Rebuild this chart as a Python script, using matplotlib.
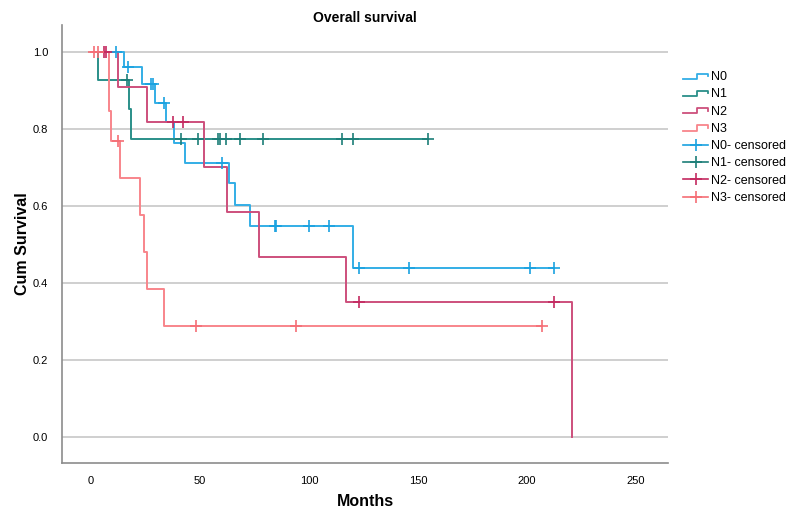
import matplotlib
matplotlib.use("Agg")
import matplotlib.pyplot as plt
from matplotlib.lines import Line2D
from matplotlib.legend_handler import HandlerBase

plt.rcParams['font.family'] = ['Liberation Sans', 'DejaVu Sans']

# Kaplan-Meier steps (months, cum survival)
groups = ['N0', 'N1', 'N2', 'N3']

n0_times = [0, 15.1, 23.2, 29.4, 34.4, 38.1, 43.1, 63.5, 66.0, 73.1, 120.0, 212.5]
n0_surv = [1.0, 0.96, 0.916, 0.868, 0.819, 0.765, 0.713, 0.659, 0.604, 0.548, 0.440, 0.440]
n0_cens = [11.5, 17.1, 27.5, 28.3, 33.5, 60.2, 84.2, 84.8, 100.0, 109.0, 122.8, 145.7, 201.4, 212.5]

n1_times = [0, 3.4, 17.4, 18.3, 154.7]
n1_surv = [1.0, 0.927, 0.851, 0.774, 0.774]
n1_cens = [16.4, 41.1, 49.2, 58.4, 59.2, 62.0, 68.3, 78.7, 115.0, 120.0, 154.7]

n2_times = [0, 12.5, 25.5, 52.0, 62.2, 77.2, 117.0, 220.5]
n2_surv = [1.0, 0.909, 0.818, 0.701, 0.584, 0.468, 0.351, 0.0]
n2_cens = [6.0, 7.0, 37.8, 42.3, 122.8, 212.4]

n3_times = [0, 8.4, 9.2, 13.3, 22.5, 24.3, 25.5, 33.5, 207.0]
n3_surv = [1.0, 0.846, 0.769, 0.673, 0.577, 0.481, 0.385, 0.288, 0.288]
n3_cens = [1.5, 3.3, 12.5, 48.2, 94.0, 207.0]

line_colors = ['#33aee6', '#2a8f89', '#cd4f7c', '#f8858b']
cens_colors = ['#1aa2e0', '#1c7e78', '#c42a60', '#f56e76']

all_times = [n0_times, n1_times, n2_times, n3_times]
all_surv = [n0_surv, n1_surv, n2_surv, n3_surv]
all_cens = [n0_cens, n1_cens, n2_cens, n3_cens]


def surv_at(t, times, surv):
    # value of step curve at time t (right continuous)
    s = surv[0]
    for ti, si in zip(times, surv):
        if ti <= t:
            s = si
    return s


class StepHandler(HandlerBase):
    def create_artists(self, legend, orig_handle, xdescent, ydescent,
                       width, height, fontsize, trans):
        lo = height * 0.15 - ydescent
        hi = height * 0.75 - ydescent
        x = [-xdescent, -xdescent + width * 0.55, -xdescent + width * 0.55,
             -xdescent + width, -xdescent + width]
        y = [lo, lo, hi, hi, height * 0.45 - ydescent]
        ln = Line2D(x, y, color=orig_handle.get_color(), lw=1.3, transform=trans)
        return [ln]


fig = plt.figure(figsize=(7.99, 5.17), dpi=100)
ax = fig.add_axes([0.0776, 0.1044, 0.7584, 0.847])

for yv in [0.0, 0.2, 0.4, 0.6, 0.8, 1.0]:
    ax.axhline(yv, color='#cfcfcf', lw=1.4, zorder=0)

step_handles = []
for i, g in enumerate(groups):
    ln, = ax.step(all_times[i], all_surv[i], where='post', color=line_colors[i], lw=1.4, zorder=2)
    step_handles.append(ln)

cens_handles = []
for i, g in enumerate(groups):
    ys = [surv_at(t, all_times[i], all_surv[i]) for t in all_cens[i]]
    ax.plot(all_cens[i], ys, linestyle='none', marker='+', ms=8, mew=1.2,
            color=cens_colors[i], zorder=3)
    cens_handles.append(Line2D([], [], color=cens_colors[i], lw=1.2, marker='+', ms=9, mew=1.2))

ax.set_xlim(-13.3, 264.7)
ax.set_ylim(-0.0675, 1.07)
ax.set_xticks([0, 50, 100, 150, 200, 250])
ax.set_yticks([0.0, 0.2, 0.4, 0.6, 0.8, 1.0])
ax.set_yticklabels(['0.0', '0.2', '0.4', '0.6', '0.8', '1.0'])
ax.tick_params(length=0, labelsize=8, pad=9)
ax.tick_params(axis='y', pad=10)
for s in ['top', 'right']:
    ax.spines[s].set_visible(False)
for s in ['left', 'bottom']:
    ax.spines[s].set_color('#8c8c8c')
    ax.spines[s].set_linewidth(1.2)

ax.set_title('Overall survival', fontsize=10, fontweight='bold', pad=-2)
ax.set_xlabel('Months', fontsize=11.5, fontweight='bold', labelpad=6)
ax.set_ylabel('Cum Survival', fontsize=11.5, fontweight='bold', labelpad=2)

labels = groups + [g + '- censored' for g in groups]
handler_map = {h: StepHandler() for h in step_handles}
fig.legend(step_handles + cens_handles, labels, handler_map=handler_map,
           loc='upper left', bbox_to_anchor=(0.849, 0.872), frameon=False,
           fontsize=9, labelspacing=0.42, handlelength=2.0, handletextpad=0.25,
           borderaxespad=0)

fig.savefig('out.png', dpi=100)
